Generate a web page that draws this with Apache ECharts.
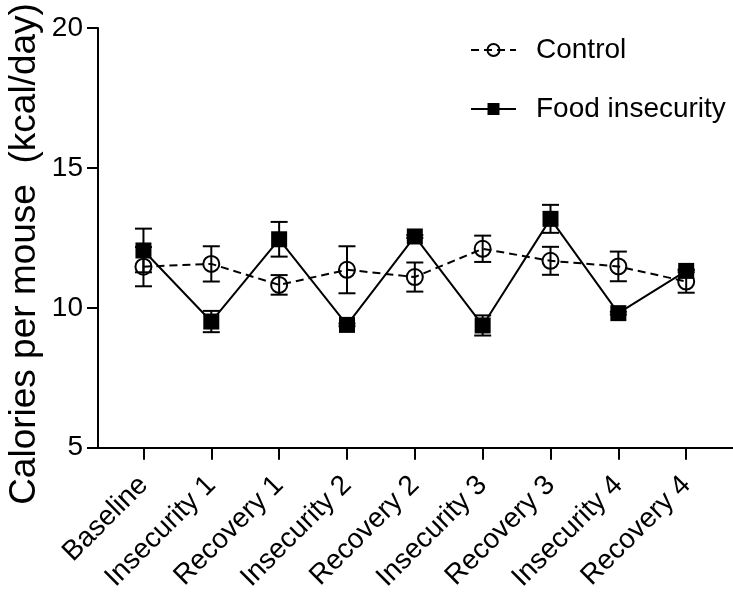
<!DOCTYPE html>
<html>
<head>
<meta charset="utf-8">
<script src="https://cdn.jsdelivr.net/npm/echarts@6/dist/echarts.min.js"></script>
<style>html,body{margin:0;padding:0;background:#fff}#c{width:733px;height:594px}</style>
</head>
<body>
<div id="c"></div>
<script>
var categories = ['Baseline','Insecurity 1','Recovery 1','Insecurity 2','Recovery 2','Insecurity 3','Recovery 3','Insecurity 4','Recovery 4'];
var controlMean = [11.47, 11.57, 10.82, 11.36, 11.10, 12.11, 11.68, 11.48, 10.94];
var controlSem  = [0.70, 0.63, 0.35, 0.84, 0.52, 0.47, 0.50, 0.53, 0.40];
var foodMean    = [12.05, 9.51, 12.45, 9.39, 12.55, 9.37, 13.18, 9.81, 11.32];
var foodSem     = [0.78, 0.38, 0.62, 0.05, 0.05, 0.36, 0.50, 0.05, 0.05];
var yTicks = [5, 10, 15, 20];

var FONT = '"Liberation Sans", Arial, sans-serif';
var idx = categories.map(function(_, i){ return i; });

function pairs(arr){ return arr.map(function(v, i){ return [i, v]; }); }
function errData(mean, sem){ return mean.map(function(v, i){ return [i, v - sem[i], v + sem[i]]; }); }

function renderErr(params, api){
  var x = api.value(0);
  var lo = api.coord([x, api.value(1)]);
  var hi = api.coord([x, api.value(2)]);
  var cw = 8.5;
  var st = {stroke:'#000', lineWidth:2, fill:null};
  return {type:'group', children:[
    {type:'line', shape:{x1:lo[0], y1:lo[1], x2:hi[0], y2:hi[1]}, style:st},
    {type:'line', shape:{x1:lo[0]-cw, y1:lo[1], x2:lo[0]+cw, y2:lo[1]}, style:st},
    {type:'line', shape:{x1:hi[0]-cw, y1:hi[1], x2:hi[0]+cw, y2:hi[1]}, style:st}
  ]};
}

var chart = echarts.init(document.getElementById('c'), null, {renderer:'canvas'});
chart.setOption({
  animation:false,
  backgroundColor:'#fff',
  textStyle:{fontFamily:FONT, color:'#000'},
  grid:{left:98, top:28, right:0, bottom:146, containLabel:false},
  legend:{
    orient:'vertical', left:465, top:31, itemWidth:45, itemHeight:15, itemGap:31,
    textStyle:{fontFamily:FONT, fontSize:28, color:'#000', padding:[0,0,0,15]},
    data:['Control','Food insecurity']
  },
  xAxis:{
    type:'value', min:-0.67, max:8.69,
    axisLine:{show:true, onZero:false, lineStyle:{color:'#000', width:2}},
    axisTick:{show:true, length:12, lineStyle:{color:'#000', width:2}, customValues:idx},
    axisLabel:{customValues:idx, rotate:45, margin:33, fontFamily:FONT, fontSize:28, color:'#000',
      formatter:function(v){ return categories[Math.round(v)]; }},
    splitLine:{show:false}
  },
  yAxis:{
    type:'value', min:5, max:20, interval:5,
    axisLine:{show:true, onZero:false, lineStyle:{color:'#000', width:2}},
    axisTick:{show:true, length:11, lineStyle:{color:'#000', width:2}},
    axisLabel:{margin:15, fontFamily:FONT, fontSize:28, color:'#000',
      customValues:yTicks},
    splitLine:{show:false}
  },
  graphic:[{
    type:'text', x:25, y:254, rotation:Math.PI/2,
    style:{text:'Calories per mouse  (kcal/day)', fontFamily:FONT, fontSize:37, fill:'#000',
      align:'center', verticalAlign:'middle'}
  }],
  series:[
    {
      name:'Control', type:'line', data:pairs(controlMean),
      symbol:'circle', symbolSize:16, showSymbol:true,
      lineStyle:{color:'#000', width:2, type:[8,5]},
      itemStyle:{color:'rgba(255,255,255,0)', borderColor:'#000', borderWidth:2},
      z:3
    },
    {
      name:'Food insecurity', type:'line', data:pairs(foodMean),
      symbol:'rect', symbolSize:16, showSymbol:true,
      lineStyle:{color:'#000', width:2, type:'solid'},
      itemStyle:{color:'#000', borderColor:'#000', borderWidth:0},
      z:4
    },
    {type:'custom', name:'ctrlErr', renderItem:renderErr, data:errData(controlMean, controlSem), z:2, silent:true},
    {type:'custom', name:'foodErr', renderItem:renderErr, data:errData(foodMean, foodSem), z:2, silent:true}
  ]
});
</script>
</body>
</html>
